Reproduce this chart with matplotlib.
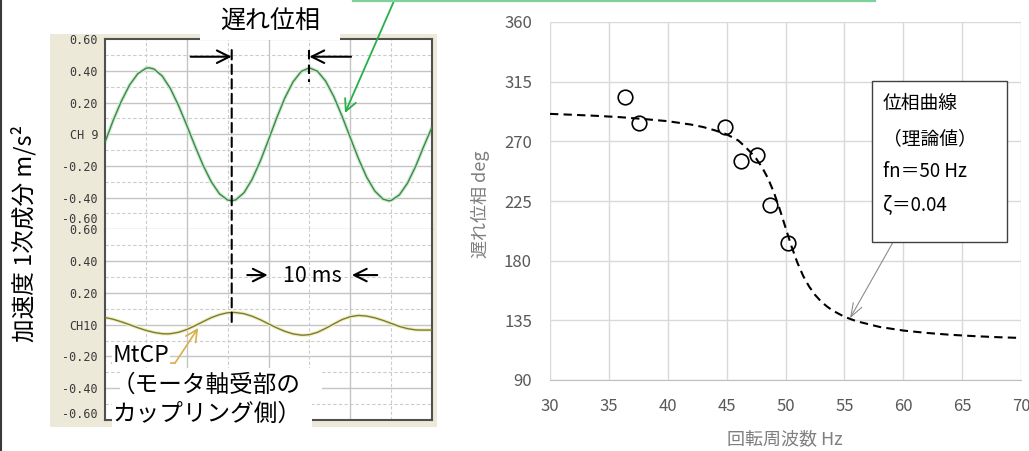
import matplotlib
matplotlib.use('Agg')
import matplotlib.pyplot as plt
from matplotlib.patches import Rectangle, ConnectionPatch
from matplotlib.lines import Line2D

plt.rcParams['font.family'] = ['Noto Sans CJK JP', 'DejaVu Sans']

# ---------------- data ----------------
# left: CH 9 waveform (time in ms, acceleration m/s^2)
ch9_t = [0, 1, 2, 3, 4, 5, 5.4, 6, 7, 8, 9, 10, 11, 12, 13, 14, 15, 15.5, 16, 17, 18, 19, 20,
         21, 22, 23, 24, 25, 26, 27, 28, 29, 30, 31, 32, 33, 34, 34.7, 35, 36, 37, 38, 39, 40]
ch9_v = [-0.050, 0.088, 0.209, 0.311, 0.382, 0.417, 0.420, 0.412, 0.368, 0.289, 0.181, 0.057,
         -0.073, -0.196, -0.300, -0.376, -0.415, -0.420, -0.414, -0.369, -0.284, -0.169, -0.035,
         0.103, 0.230, 0.331, 0.397, 0.420, 0.398, 0.335, 0.237, 0.114, -0.020, -0.153, -0.270,
         -0.358, -0.409, -0.420, -0.418, -0.383, -0.309, -0.202, -0.075, 0.045]
# left: CH10 waveform (MtCP)
ch10_t = [0, 1, 2, 3, 4, 5, 6, 7, 7.6, 8, 9, 10, 11, 12, 13, 14, 15, 15.7, 16, 17, 18, 19, 20,
          21, 22, 23, 24, 24.3, 25, 26, 27, 28, 29, 30, 31, 32, 33, 34, 35, 36, 37, 38, 38.5, 39, 40]
ch10_v = [0.045, 0.034, 0.018, 0.000, -0.019, -0.036, -0.049, -0.057, -0.058, -0.057, -0.048,
          -0.031, -0.007, 0.019, 0.044, 0.063, 0.075, 0.077, 0.076, 0.069, 0.053, 0.031, 0.005,
          -0.020, -0.042, -0.058, -0.066, -0.066, -0.063, -0.048, -0.023, 0.005, 0.032, 0.050,
          0.058, 0.054, 0.043, 0.027, 0.008, -0.011, -0.025, -0.033, -0.034, -0.034, -0.034]
ch9_ticks = [0.6, 0.4, 0.2, 0.0, -0.2, -0.4, -0.53]
ch9_ticklabels = ['0.60', '0.40', '0.20', 'CH 9', '-0.20', '-0.40', '-0.60']
ch10_ticks = [0.6, 0.4, 0.2, 0.0, -0.2, -0.4, -0.555]
ch10_ticklabels = ['0.60', '0.40', '0.20', 'CH10', '-0.20', '-0.40', '-0.60']
grid_solid_v = [-0.4, -0.2, 0.0, 0.2, 0.4]
grid_dash_v = [-0.5, -0.3, -0.1, 0.1, 0.3, 0.5]
grid_solid_t = [10, 20, 30]
grid_dash_t = [5, 15, 25, 35]

# right: measured phase
meas_hz = [36.4, 37.6, 44.9, 46.2, 47.6, 48.7, 50.2]
meas_deg = [303.2, 284.0, 280.6, 254.9, 259.9, 222.0, 193.5]
# right: theoretical phase curve
curve_hz = [30, 32, 34, 36, 38, 40, 42, 43, 44, 45, 46, 46.5, 47, 47.5, 48, 48.5, 49, 49.5, 50,
            50.5, 51, 51.5, 52, 52.5, 53, 53.5, 54, 55, 56, 58, 60, 62, 64, 66, 68, 70]
curve_deg = [290.7, 290.0, 289.2, 288.2, 286.8, 285.2, 282.6, 280.8, 278.3, 275.3, 270.6, 266.5,
             262.1, 257.1, 250.6, 242.3, 231.8, 219.1, 205.0, 191.0, 178.7, 168.5, 160.6, 154.3,
             149.4, 145.6, 142.4, 137.7, 134.4, 130.0, 127.3, 125.5, 124.1, 123.1, 122.3, 121.7]
x_ticks = [30, 35, 40, 45, 50, 55, 60, 65, 70]
y_ticks = [90, 135, 180, 225, 270, 315, 360]

# ---------------- figure ----------------
W, H = 1029, 451
fig = plt.figure(figsize=(W / 100, H / 100), dpi=100)


def fx(x):
    return x / W


def fy(y):
    return 1 - y / H


def frect(l, t, r, b):
    return [fx(l), fy(b), fx(r) - fx(l), fy(t) - fy(b)]


# left edge line
fig.add_artist(Line2D([fx(0.8), fx(0.8)], [0, 1], transform=fig.transFigure,
                      color='#3a3a3a', lw=1.5))
# beige oscilloscope panel
fig.add_artist(Rectangle((fx(50), fy(427)), fx(437) - fx(50), fy(34) - fy(427),
                         transform=fig.transFigure, facecolor='#ece9d8',
                         edgecolor='none', zorder=-5))

ax1 = fig.add_axes(frect(105, 39.3, 432, 229.3))
ax2 = fig.add_axes(frect(105, 229.3, 432, 420))

for ax, ticks, labels in ((ax1, ch9_ticks, ch9_ticklabels), (ax2, ch10_ticks, ch10_ticklabels)):
    ax.set_xlim(0, 40)
    ax.set_ylim(-0.6, 0.6)
    ax.set_xticks([])
    ax.set_yticks(ticks)
    ax.set_yticklabels(labels)
    ax.tick_params(axis='y', length=0, pad=5, labelsize=8.5, labelcolor='#3a3a3a')
    for lab in ax.get_yticklabels():
        lab.set_fontfamily('DejaVu Sans Mono')
    for v in grid_solid_v:
        ax.axhline(v, color='#c4c4c4', lw=1.0, zorder=1)
    for v in grid_dash_v:
        ax.axhline(v, color='#cccccc', lw=0.8, ls=(0, (3, 2)), zorder=1)
    for t in grid_solid_t:
        ax.axvline(t, color='#c4c4c4', lw=1.0, zorder=1)
    for t in grid_dash_t:
        ax.axvline(t, color='#cccccc', lw=0.8, ls=(0, (3, 2)), zorder=1)
    for s in ax.spines.values():
        s.set_color('#505050')
        s.set_linewidth(1.5)

ax1.spines['bottom'].set_color('#c4c4c4')
ax1.spines['bottom'].set_linewidth(1.0)
ax2.spines['top'].set_visible(False)

# waveforms
ax1.plot(ch9_t, ch9_v, color='#cfe9cf', lw=2.6, zorder=2)
ax1.plot(ch9_t, ch9_v, color='#3b8a4b', lw=1.0, zorder=3)
ax2.plot(ch10_t, ch10_v, color='#f2f0b8', lw=2.6, zorder=2)
ax2.plot(ch10_t, ch10_v, color='#7a7a3c', lw=1.0, zorder=3)

# dashed vertical markers
con = ConnectionPatch(xyA=(15.5, 0.532), coordsA='data', axesA=ax1,
                      xyB=(15.5, 0.0), coordsB='data', axesB=ax2,
                      color='black', lw=1.5, linestyle=(0, (4.5, 2.5)), zorder=6)
fig.add_artist(con)
ax1.plot([25, 25], [0.532, 0.332], color='black', lw=1.5, ls=(0, (4.5, 2.5)), zorder=6,
         clip_on=False)

arrow_kw = dict(arrowstyle='->,head_length=0.6,head_width=0.3', lw=1.5, color='black',
                mutation_scale=15, shrinkA=0, shrinkB=0)
ax1.annotate('', xy=(15.5, 0.490), xytext=(10.48, 0.490), arrowprops=arrow_kw,
             annotation_clip=False)
ax1.annotate('', xy=(25.0, 0.490), xytext=(30.1, 0.490), arrowprops=arrow_kw,
             annotation_clip=False)
ax2.annotate('', xy=(19.9, 0.312), xytext=(17.4, 0.312), arrowprops=arrow_kw,
             annotation_clip=False)
ax2.annotate('', xy=(30.2, 0.312), xytext=(33.3, 0.312), arrowprops=arrow_kw,
             annotation_clip=False)
ax2.text(25.3, 0.305, '10 ms', fontsize=15.5, ha='center', va='center', zorder=7)

# white box + title
fig.add_artist(Rectangle((fx(200), fy(40)), fx(340) - fx(200), fy(0) - fy(40),
                         transform=fig.transFigure, facecolor='white', edgecolor='none',
                         zorder=3))
fig.text(fx(270), fy(22), '遅れ位相', fontsize=18, ha='center', va='center', zorder=4)

# MtCP callout
gold = '#d6b04a'
ax2.plot([0.82, 8.56], [-0.242, -0.242], color=gold, lw=1.2, clip_on=False, zorder=6)
ax2.annotate('', xy=(11.4, -0.021), xytext=(8.56, -0.242),
             arrowprops=dict(arrowstyle='->,head_length=0.6,head_width=0.3', lw=1.2,
                             color=gold, mutation_scale=14, shrinkA=0, shrinkB=0),
             annotation_clip=False, zorder=6)
ax2.text(0.98, -0.232, 'MtCP', fontsize=16.5, ha='left', va='baseline', zorder=7,
         bbox=dict(facecolor='white', edgecolor='none', pad=0.5))

fig.add_artist(Rectangle((fx(120), fy(400)), fx(322) - fx(120), fy(368) - fy(400),
                         transform=fig.transFigure, facecolor='white', edgecolor='none',
                         zorder=3))
fig.add_artist(Rectangle((fx(112), fy(427)), fx(312) - fx(112), fy(400) - fy(427),
                         transform=fig.transFigure, facecolor='white', edgecolor='none',
                         zorder=3))
fig.text(fx(112), fy(392), '（モータ軸受部の', fontsize=17, ha='left', va='baseline', zorder=4)
fig.text(fx(112), fy(421), 'カップリング側）', fontsize=17, ha='left', va='baseline', zorder=4)

# left y label
fig.text(fx(24), fy(233), '加速度 1次成分 m/s²', fontsize=17, rotation=90,
         ha='center', va='center')

# green arrow and line at the top
fig.add_artist(Line2D([fx(353), fx(875)], [fy(1.2), fy(1.2)], transform=fig.transFigure,
                      color='#7fd09a', lw=1.6))
ax1.annotate('', xy=(345, H - 113), xycoords='figure pixels',
             xytext=(394, H - 1), textcoords='figure pixels',
             arrowprops=dict(arrowstyle='->,head_length=0.6,head_width=0.3', lw=1.3,
                             color='#25b04a', mutation_scale=14, shrinkA=0, shrinkB=0),
             annotation_clip=False)

# ---------------- right chart ----------------
ax3 = fig.add_axes(frect(550, 22, 1021, 380))
ax3.plot(curve_hz, curve_deg, color='black', lw=1.5, ls=(0, (4, 2.5)), zorder=3)
ax3.plot(meas_hz, meas_deg, 'o', ms=10.5, mfc='none', mec='black', mew=1.2, zorder=4,
         clip_on=False)
ax3.set_xlim(30, 70)
ax3.set_ylim(90, 360)
ax3.set_xticks(x_ticks)
ax3.set_yticks(y_ticks)
ax3.grid(True, color='#d9d9d9', lw=1.0)
ax3.set_axisbelow(True)
for s in ax3.spines.values():
    s.set_visible(False)
ax3.spines['bottom'].set_visible(True)
ax3.spines['bottom'].set_color('#bfbfbf')
ax3.tick_params(length=0, labelsize=12, labelcolor='#595959', pad=13)
ax3.set_ylabel('遅れ位相 deg', fontsize=13, color='#7f7f7f')
ax3.set_xlabel('回転周波数 Hz', fontsize=13, color='#7f7f7f')
ax3.yaxis.label.set_va('center')
ax3.xaxis.label.set_va('center')
ax3.yaxis.set_label_coords((480 - 550) / 471, (380 - 204) / 358)
ax3.xaxis.set_label_coords((785 - 550) / 471, (380 - 439) / 358)

# legend-like box
fig.add_artist(Rectangle((fx(871.7), fy(241.7)), fx(1006.7) - fx(871.7), fy(81) - fy(241.7),
                         transform=fig.transFigure, facecolor='white', edgecolor='#404040',
                         lw=1.0, zorder=5))
box_lines = ['位相曲線', '（理論値）', 'fn＝50 Hz', 'ζ＝0.04']
box_y = [103.3, 138.3, 171.7, 205.0]
for txt, yy in zip(box_lines, box_y):
    fig.text(fx(882.7), fy(yy), txt, fontsize=13.5, ha='left', va='center', zorder=6)

ax3.annotate('', xy=(850, H - 318.3), xycoords='figure pixels',
             xytext=(893.3, H - 241.7), textcoords='figure pixels',
             arrowprops=dict(arrowstyle='->,head_length=0.7,head_width=0.25', lw=0.8,
                             color='#8c8c8c', mutation_scale=14, shrinkA=0, shrinkB=0),
             annotation_clip=False)

fig.savefig('out.png', dpi=100)
